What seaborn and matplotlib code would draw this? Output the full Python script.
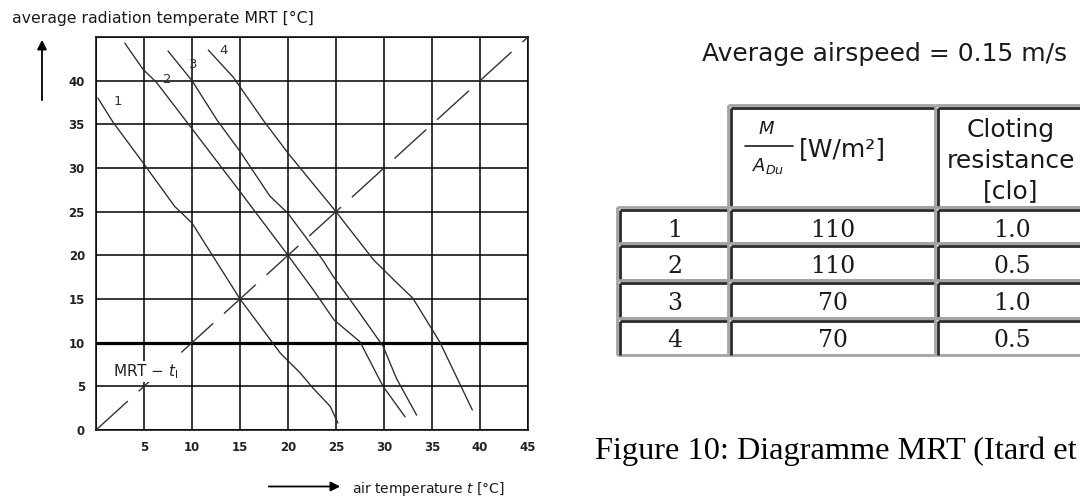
import matplotlib
matplotlib.use("Agg")
import numpy as np
import pandas as pd
import matplotlib.pyplot as plt
import seaborn as sns

# curve values: air temperature t and MRT
t1 = [0.2, 1.8, 4.9, 8.2, 10.0, 15.0, 19.2, 21.3, 22.6, 24.4, 25.2]
m1 = [38.0, 35.2, 30.6, 25.6, 23.7, 15.0, 8.8, 6.5, 4.8, 2.7, 0.8]
t2 = [3.0, 4.9, 6.3, 9.3, 15.0, 20.0, 22.6, 24.8, 27.5, 29.9, 32.2]
m2 = [44.3, 41.3, 39.8, 35.5, 27.3, 20.0, 16.1, 12.6, 10.1, 5.0, 1.5]
t3 = [7.5, 10.0, 12.6, 15.0, 18.1, 20.0, 23.6, 24.7, 27.2, 29.9, 31.3, 33.4]
m3 = [43.4, 40.0, 35.5, 31.9, 26.8, 24.8, 19.5, 17.6, 13.8, 9.6, 5.9, 1.7]
t4 = [11.7, 14.3, 17.4, 20.0, 25.0, 28.9, 31.2, 33.0, 35.8, 39.2]
m4 = [43.5, 40.4, 35.5, 31.7, 25.0, 19.5, 17.0, 15.1, 10.1, 2.3]
curve_names = ["1", "2", "3", "4"]
label_t = [1.8, 7.0, 9.7, 12.8]
label_m = [37.6, 40.1, 41.9, 43.5]

diag = [0, 45]
ticks = list(range(0, 46, 5))

# table contents
row_ids = ["1", "2", "3", "4"]
metab = ["110", "110", "70", "70"]
clo = ["1.0", "0.5", "1.0", "0.5"]

df = pd.concat([
    pd.DataFrame({"t": t, "mrt": m, "curve": c})
    for t, m, c in zip([t1, t2, t3, t4], [m1, m2, m3, m4], curve_names)
])

sns.set_style("white")
plt.rcParams["font.family"] = ["DejaVu Sans"]

fig = plt.figure(figsize=(10.8, 4.98), dpi=100)
ov = fig.add_axes([0, 0, 1, 1])
ov.set_xlim(0, 1080)
ov.set_ylim(498, 0)
ov.axis("off")
ov.set_zorder(0)

ax = fig.add_axes([96 / 1080, 68 / 498, 432 / 1080, 393 / 498])
ax.set_zorder(1)

sns.lineplot(data=df, x="t", y="mrt", units="curve", estimator=None,
             sort=False, color="#2a2a2a", lw=0.95, ax=ax, zorder=3)
ax.plot(diag, diag, color="#333333", lw=1.0, dashes=(31, 10.5), zorder=3)
ax.axhline(10, color="black", lw=2.3, zorder=2)

for name, x, y in zip(curve_names, label_t, label_m):
    ax.text(x, y, name, fontsize=9.5, color="#333333", ha="left", va="center", zorder=4)

ax.text(1.8, 6.7, r"MRT $-$ $t_{\mathrm{l}}$", fontsize=11, color="#222222",
        ha="left", va="center", zorder=4,
        bbox=dict(facecolor="white", edgecolor="none", pad=1))

ax.set_xlim(0, 45)
ax.set_ylim(0, 45)
ax.set_xticks(ticks)
ax.set_yticks(ticks)
ax.set_xticklabels([""] + [str(v) for v in ticks[1:]])
ax.set_yticklabels([str(v) for v in ticks[:-1]] + [""])
ax.tick_params(length=0, pad=8, labelsize=8.5, labelcolor="#222222")
for lab in ax.get_xticklabels() + ax.get_yticklabels():
    lab.set_fontweight("bold")
ax.grid(True, color="black", lw=1.1, zorder=1)
ax.set_axisbelow(True)
for s in ax.spines.values():
    s.set_color("black")
    s.set_linewidth(1.1)
ax.set_xlabel("")
ax.set_ylabel("")

# axis titles with arrows
ov.text(12, 22.5, "average radiation temperate MRT [°C]", fontsize=11.3,
        color="#1a1a1a", ha="left", va="baseline")
ov.annotate("", xy=(42, 37), xytext=(42, 103),
            arrowprops=dict(arrowstyle="-|>", color="black", lw=1.3, mutation_scale=14))
ov.annotate("", xy=(343, 486.5), xytext=(266, 486.5),
            arrowprops=dict(arrowstyle="-|>", color="black", lw=1.3, mutation_scale=14))
ov.text(352, 493, r"air temperature $t$ [°C]", fontsize=10, color="#1a1a1a",
        ha="left", va="baseline")

# table on the right
ov.text(702, 54, "Average airspeed = 0.15 m/s", fontsize=18, color="#1a1a1a",
        ha="left", va="center")

xs = [617, 728, 935, 1085]
ys = [105, 207, 243, 280, 318, 355]
light = "#a3a3a3"
dark = "#2a2a2a"
cells = [(1, 0), (2, 0)] + [(c, r) for r in range(1, 5) for c in range(3)]
for c, r in cells:
    x0, x1 = xs[c], xs[c + 1]
    y0, y1 = ys[r], ys[r + 1]
    ov.plot([x0, x1], [y0, y0], color=light, lw=2.0, solid_capstyle="butt")
    ov.plot([x0, x0], [y0, y1], color=light, lw=2.0, solid_capstyle="butt")
    ov.plot([x0, x1], [y1, y1], color=light, lw=2.0, solid_capstyle="butt")
    ov.plot([x0 + 3, x1], [y0 + 3, y0 + 3], color=dark, lw=2.0, solid_capstyle="butt")
    ov.plot([x0 + 3, x0 + 3], [y0 + 3, y1], color=dark, lw=2.0, solid_capstyle="butt")

# header texts
ov.text(767, 129, r"$M$", fontsize=13, color="#1a1a1a", ha="center", va="center")
ov.plot([745, 793], [146, 146], color="#1a1a1a", lw=1.2)
ov.text(768, 166, r"$A_{Du}$", fontsize=13, color="#1a1a1a", ha="center", va="center")
ov.text(799, 156, "[W/m²]", fontsize=18, color="#1a1a1a", ha="left", va="baseline")
for txt, yb in zip(["Cloting", "resistance", "[clo]"], [137, 167.5, 198]):
    ov.text(1011, yb, txt, fontsize=18, color="#1a1a1a", ha="center", va="baseline")

row_base = [236.5, 273, 310, 346.5]
for i, yb in enumerate(row_base):
    ov.text(675, yb, row_ids[i], fontsize=17, family="DejaVu Serif", color="#1a1a1a",
            ha="center", va="baseline")
    ov.text(833, yb, metab[i], fontsize=17, family="DejaVu Serif", color="#1a1a1a",
            ha="center", va="baseline")
    ov.text(1012, yb, clo[i], fontsize=17, family="DejaVu Serif", color="#1a1a1a",
            ha="center", va="baseline")

ov.text(595, 459, "Figure 10: Diagramme MRT (Itard et", fontsize=23.3,
        family="Liberation Serif", color="black", ha="left", va="baseline")

fig.savefig("out.png", dpi=100, facecolor="white")
